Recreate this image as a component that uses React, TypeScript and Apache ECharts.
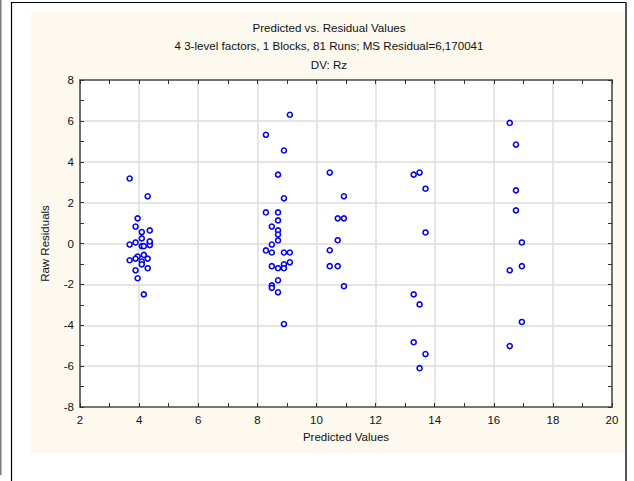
import React, { useEffect, useRef } from "react";
import * as echarts from "echarts";

const titleLines = [
  "Predicted vs. Residual Values",
  "4 3-level factors, 1 Blocks, 81 Runs; MS Residual=6,170041",
  "DV: Rz",
];
const xAxisName = "Predicted Values";
const yAxisName = "Raw Residuals";

const predicted = [
  // cluster near 4
  3.68, 4.29, 3.95, 3.88, 4.09, 4.36, 4.09, 3.68, 3.88, 4.09, 4.16, 4.36, 4.36, 4.36,
  4.16, 3.95, 3.88, 4.29, 3.68, 4.09, 4.09, 3.88, 4.29, 3.95, 4.16,
  // cluster near 8.7
  9.1, 8.29, 8.9, 8.7, 8.9, 8.29, 8.7, 8.7, 8.49, 8.7, 8.7, 8.7, 8.49, 8.29, 8.49,
  8.9, 9.1, 9.1, 8.9, 8.9, 8.49, 8.7, 8.7, 8.49, 8.49, 8.7, 8.9,
  // cluster near 10.7
  10.45, 10.93, 10.72, 10.93, 10.72, 10.45, 10.45, 10.72, 10.93,
  // cluster near 13.5
  13.29, 13.49, 13.69, 13.69, 13.29, 13.49, 13.29, 13.69, 13.49,
  // cluster near 16.7
  16.54, 16.75, 16.75, 16.75, 16.95, 16.54, 16.95, 16.95, 16.54,
];
const residuals = [
  3.18, 2.31, 1.23, 0.83, 0.56, 0.64, 0.25, -0.05, 0.05, -0.13, -0.13, 0.05, -0.08, 0.1,
  -0.56, -0.64, -0.74, -0.74, -0.82, -0.88, -1.02, -1.31, -1.21, -1.7, -2.49,
  6.3, 5.32, 4.55, 3.37, 2.21, 1.52, 1.52, 1.13, 0.83, 0.64, 0.44, 0.15, -0.05, -0.34, -0.44,
  -0.44, -0.44, -0.92, -1.02, -1.21, -1.11, -1.21, -1.8, -2.05, -2.17, -2.39, -3.94,
  3.47, 2.31, 1.23, 1.23, 0.16, -0.33, -1.11, -1.11, -2.09,
  3.37, 3.47, 2.68, 0.54, -2.49, -2.98, -4.83, -5.41, -6.1,
  5.9, 4.84, 2.6, 1.62, 0.05, -1.31, -1.11, -3.84, -5.02,
];

const xMin = 2, xMax = 20, xStep = 2;
const yMin = -8, yMax = 8, yStep = 2;

const FONT = "'Liberation Sans', Arial, sans-serif";

export default function App() {
  const ref = useRef<HTMLDivElement>(null);
  useEffect(() => {
    document.body.style.margin = "0";
    if (!ref.current) return;
    const chart = echarts.init(ref.current, undefined, { renderer: "svg" });
    const points = predicted.map((p, i) => [p, residuals[i]]);
    const axisLine = { show: true, onZero: false, lineStyle: { color: "#505050", width: 1.6 } };
    const tick = { show: true, inside: true, length: 4, lineStyle: { color: "#303030", width: 1 } };
    const minorTick = { show: true, splitNumber: 2, length: 4, lineStyle: { color: "#303030", width: 1 } };
    const label = { color: "#111", fontSize: 11.5, fontFamily: FONT };
    chart.setOption({
      animation: false,
      backgroundColor: "#ffffff",
      graphic: [
        { type: "rect", z: -10, shape: { x: 31, y: 12, width: 594, height: 441 }, style: { fill: "#fdf9ee" } },
        { type: "line", shape: { x1: 0.5, y1: 0, x2: 0.5, y2: 475 }, style: { stroke: "#7a7a7a", lineWidth: 2 } },
        { type: "line", shape: { x1: 11.5, y1: 2, x2: 11.5, y2: 481 }, style: { stroke: "#000", lineWidth: 1.2 } },
        { type: "line", shape: { x1: 11, y1: 2.5, x2: 626, y2: 2.5 }, style: { stroke: "#000", lineWidth: 1.2 } },
        { type: "line", shape: { x1: 626, y1: 2, x2: 626, y2: 481 }, style: { stroke: "#555", lineWidth: 2 } },
        ...titleLines.map((t, i) => ({
          type: "text",
          x: 329,
          y: 27 + i * 18.5,
          style: {
            text: t,
            fill: "#111",
            font: `11.6px ${FONT}`,
            textAlign: "center",
            textVerticalAlign: "middle",
          },
        })),
      ],
      grid: {
        left: 80,
        top: 80,
        width: 532,
        height: 327,
        show: true,
        backgroundColor: "#ffffff",
        borderWidth: 0,
      },
      xAxis: [
        {
          type: "value",
          min: xMin,
          max: xMax,
          interval: xStep,
          position: "bottom",
          axisLine,
          axisTick: tick,
          minorTick,
          axisLabel: { ...label, margin: 7 },
          splitLine: { show: true, lineStyle: { color: "#dcdcdc", width: 1.5 } },
          name: xAxisName,
          nameLocation: "middle",
          nameGap: 24,
          nameTextStyle: { color: "#111", fontSize: 11.5, fontFamily: FONT },
        },
        {
          type: "value",
          min: xMin,
          max: xMax,
          interval: xStep,
          position: "top",
          axisLine,
          axisTick: tick,
          minorTick,
          axisLabel: { show: false },
          splitLine: { show: false },
        },
      ],
      yAxis: [
        {
          type: "value",
          min: yMin,
          max: yMax,
          interval: yStep,
          position: "left",
          axisLine,
          axisTick: tick,
          minorTick,
          axisLabel: { ...label, margin: 6 },
          splitLine: { show: true, lineStyle: { color: "#dcdcdc", width: 1.5 } },
          name: yAxisName,
          nameLocation: "middle",
          nameGap: 29,
          nameTextStyle: { color: "#111", fontSize: 11.5, fontFamily: FONT },
        },
        {
          type: "value",
          min: yMin,
          max: yMax,
          interval: yStep,
          position: "right",
          axisLine,
          axisTick: tick,
          minorTick,
          axisLabel: { show: false },
          splitLine: { show: false },
        },
      ],
      series: [
        {
          type: "scatter",
          xAxisIndex: 0,
          yAxisIndex: 0,
          data: points,
          symbol: "circle",
          symbolSize: 5,
          itemStyle: { color: "#ffffff", borderColor: "#0000ff", borderWidth: 1.6, opacity: 1 },
          emphasis: { disabled: true },
        },
      ],
    });
    return () => chart.dispose();
  }, []);
  return <div ref={ref} style={{ width: 634, height: 481 }} />;
}
